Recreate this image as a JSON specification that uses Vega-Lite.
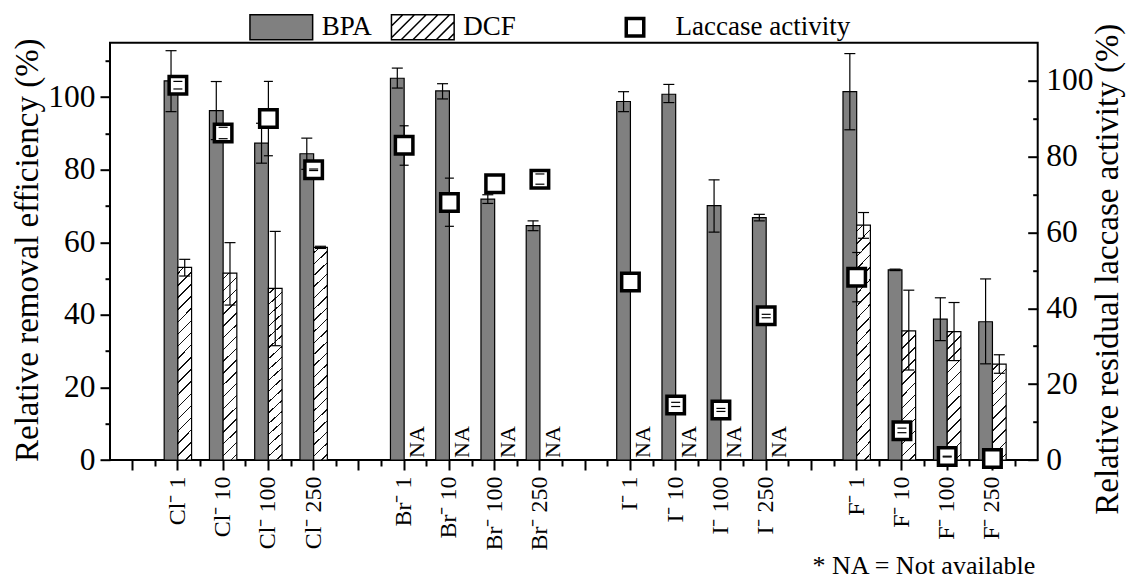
{
 "$schema": "https://vega.github.io/schema/vega-lite/v6.json",
 "width": 927.7,
 "height": 417.3,
 "autosize": {"type": "none"},
 "padding": {"left": 110, "top": 42.7, "right": 88.3, "bottom": 121},
 "background": "white",
 "config": {
  "view": {"stroke": "black", "strokeWidth": 2},
  "font": "Liberation Serif",
  "text": {"font": "Liberation Serif"},
  "axis": {"grid": false, "domain": false, "tickColor": "black", "tickWidth": 2, "labelColor": "black", "labelFont": "Liberation Serif", "titleFont": "Liberation Serif", "titleFontWeight": "normal", "titleColor": "black"},
  "legend": {"labelFont": "Liberation Serif", "labelColor": "black"}
 },
 "data": {"values": [
  {"label": "Cl⁻ 1", "BPA": 104.5, "BPA_lo": 96.0, "BPA_hi": 112.8, "DCF": 53.1, "DCF_lo": 50.7, "DCF_hi": 55.3, "Lac": 98.8, "Lac_lo": 97.8, "Lac_hi": 99.8},
  {"label": "Cl⁻ 10", "BPA": 96.3, "BPA_lo": 88.3, "BPA_hi": 104.3, "DCF": 51.5, "DCF_lo": 42.7, "DCF_hi": 59.9, "Lac": 86.2, "Lac_lo": 84.7, "Lac_hi": 87.7},
  {"label": "Cl⁻ 100", "BPA": 87.3, "BPA_lo": 81.8, "BPA_hi": 92.8, "DCF": 47.3, "DCF_lo": 31.5, "DCF_hi": 63.0, "Lac": 90.0, "Lac_lo": 80.2, "Lac_hi": 99.8},
  {"label": "Cl⁻ 250", "BPA": 84.4, "BPA_lo": 80.1, "BPA_hi": 88.7, "DCF": 58.6, "DCF_lo": 58.3, "DCF_hi": 58.9, "Lac": 76.5, "Lac_lo": 76.3, "Lac_hi": 76.7},
  {"label": "Br⁻ 1", "BPA": 105.2, "BPA_lo": 102.5, "BPA_hi": 108.0, "DCF": null, "DCF_lo": null, "DCF_hi": null, "Lac": 83.0, "Lac_lo": 77.7, "Lac_hi": 88.1},
  {"label": "Br⁻ 10", "BPA": 101.7, "BPA_lo": 99.5, "BPA_hi": 103.7, "DCF": null, "DCF_lo": null, "DCF_hi": null, "Lac": 67.9, "Lac_lo": 61.6, "Lac_hi": 74.3},
  {"label": "Br⁻ 100", "BPA": 71.9, "BPA_lo": 70.7, "BPA_hi": 73.1, "DCF": null, "DCF_lo": null, "DCF_hi": null, "Lac": 72.8, "Lac_lo": null, "Lac_hi": null},
  {"label": "Br⁻ 250", "BPA": 64.6, "BPA_lo": 63.2, "BPA_hi": 65.9, "DCF": null, "DCF_lo": null, "DCF_hi": null, "Lac": 74.0, "Lac_lo": 72.7, "Lac_hi": 75.4},
  {"label": "I⁻ 1", "BPA": 98.8, "BPA_lo": 96.0, "BPA_hi": 101.5, "DCF": null, "DCF_lo": null, "DCF_hi": null, "Lac": 46.9, "Lac_lo": null, "Lac_hi": null},
  {"label": "I⁻ 10", "BPA": 100.8, "BPA_lo": 98.5, "BPA_hi": 103.5, "DCF": null, "DCF_lo": null, "DCF_hi": null, "Lac": 14.5, "Lac_lo": 14.1, "Lac_hi": 15.2},
  {"label": "I⁻ 100", "BPA": 70.1, "BPA_lo": 62.8, "BPA_hi": 77.2, "DCF": null, "DCF_lo": null, "DCF_hi": null, "Lac": 13.2, "Lac_lo": 12.8, "Lac_hi": 13.6},
  {"label": "I⁻ 250", "BPA": 66.8, "BPA_lo": 65.9, "BPA_hi": 67.7, "DCF": null, "DCF_lo": null, "DCF_hi": null, "Lac": 38.0, "Lac_lo": 37.5, "Lac_hi": 38.4},
  {"label": "F⁻ 1", "BPA": 101.5, "BPA_lo": 91.0, "BPA_hi": 112.0, "DCF": 64.7, "DCF_lo": 61.1, "DCF_hi": 68.2, "Lac": 48.2, "Lac_lo": 41.7, "Lac_hi": 54.7},
  {"label": "F⁻ 10", "BPA": 52.4, "BPA_lo": 52.2, "BPA_hi": 52.6, "DCF": 35.6, "DCF_lo": 24.8, "DCF_hi": 46.8, "Lac": 7.7, "Lac_lo": 7.2, "Lac_hi": 8.4},
  {"label": "F⁻ 100", "BPA": 38.8, "BPA_lo": 32.9, "BPA_hi": 44.7, "DCF": 35.4, "DCF_lo": 27.4, "DCF_hi": 43.4, "Lac": 0.9, "Lac_lo": 0.8, "Lac_hi": 1.0},
  {"label": "F⁻ 250", "BPA": 38.1, "BPA_lo": 26.5, "BPA_hi": 49.9, "DCF": 26.4, "DCF_lo": 23.9, "DCF_hi": 29.0, "Lac": 0.4, "Lac_lo": null, "Lac_hi": null}
 ]},
 "layer": [
  {
   "layer": [
    {
     "mark": {"type": "bar", "width": 13.7, "xOffset": -6.85, "fill": "#808080", "stroke": "black", "strokeWidth": 1.2, "opacity": 1},
     "encoding": {
      "x": {"field": "label", "type": "nominal",
       "scale": {"type": "band", "domain": [" ", "Cl⁻ 1", "Cl⁻ 10", "Cl⁻ 100", "Cl⁻ 250", "  ", "Br⁻ 1", "Br⁻ 10", "Br⁻ 100", "Br⁻ 250", "   ", "I⁻ 1", "I⁻ 10", "I⁻ 100", "I⁻ 250", "    ", "F⁻ 1", "F⁻ 10", "F⁻ 100", "F⁻ 250"], "paddingInner": 0, "paddingOuter": 0.25, "align": 0},
       "axis": {"orient": "bottom", "tickSize": 10, "labelAngle": 270, "labelFont": "Liberation Serif", "labelFontSize": 24, "labelPadding": 6, "labelOverlap": false, "labelLimit": 300, "title": "* NA = Not available", "titleFont": "Liberation Serif", "titleFontSize": 26, "titleX": 924.7, "titleY": 105.5, "titleAlign": "right", "titleBaseline": "middle", "titleAngle": 0}},
      "y": {"field": "BPA", "type": "quantitative", "scale": {"domain": [0, 115], "nice": false, "zero": true},
       "axis": {"orient": "left", "values": [0, 20, 40, 60, 80, 100], "tickSize": 10, "labelFont": "Liberation Serif", "labelFontSize": 31.5, "labelPadding": 5, "title": "Relative removal efficiency (%)", "titleFont": "Liberation Serif", "titleFontSize": 33, "titleAngle": 270, "titleX": -83, "titleY": 207, "titleAlign": "center", "titleBaseline": "middle"}}
     }
    },
    {
     "mark": {"type": "bar", "width": 13.7, "xOffset": 6.85, "stroke": "black", "strokeWidth": 1.2, "opacity": 1},
     "encoding": {
      "x": {"field": "label", "type": "nominal", "axis": {"orient": "bottom", "bandPosition": 1, "tickSize": 6, "labels": false, "title": null}},
      "y": {"field": "DCF", "type": "quantitative", "axis": {"orient": "left", "values": [10, 30, 50, 70, 90, 110], "tickSize": 5, "labels": false, "title": null}},
      "fill": {
       "condition": [
        {"test": "datum.label === 'Cl⁻ 1' || datum.label === 'Cl⁻ 10' || datum.label === 'Cl⁻ 100'",
         "value": {"gradient": "linear", "x1": 0, "y1": 0, "x2": 0.0769, "y2": 1.0666, "stops": [
          {"offset": 0, "color": "#fff"},
          {"offset": 0.0257, "color": "#fff"}, {"offset": 0.0257, "color": "#111"}, {"offset": 0.0331, "color": "#111"}, {"offset": 0.0331, "color": "#fff"},
          {"offset": 0.0845, "color": "#fff"}, {"offset": 0.0845, "color": "#111"}, {"offset": 0.0919, "color": "#111"}, {"offset": 0.0919, "color": "#fff"},
          {"offset": 0.1434, "color": "#fff"}, {"offset": 0.1434, "color": "#111"}, {"offset": 0.1508, "color": "#111"}, {"offset": 0.1508, "color": "#fff"},
          {"offset": 0.2022, "color": "#fff"}, {"offset": 0.2022, "color": "#111"}, {"offset": 0.2096, "color": "#111"}, {"offset": 0.2096, "color": "#fff"},
          {"offset": 0.2610, "color": "#fff"}, {"offset": 0.2610, "color": "#111"}, {"offset": 0.2684, "color": "#111"}, {"offset": 0.2684, "color": "#fff"},
          {"offset": 0.3198, "color": "#fff"}, {"offset": 0.3198, "color": "#111"}, {"offset": 0.3272, "color": "#111"}, {"offset": 0.3272, "color": "#fff"},
          {"offset": 0.3787, "color": "#fff"}, {"offset": 0.3787, "color": "#111"}, {"offset": 0.3861, "color": "#111"}, {"offset": 0.3861, "color": "#fff"},
          {"offset": 0.4375, "color": "#fff"}, {"offset": 0.4375, "color": "#111"}, {"offset": 0.4449, "color": "#111"}, {"offset": 0.4449, "color": "#fff"},
          {"offset": 0.4963, "color": "#fff"}, {"offset": 0.4963, "color": "#111"}, {"offset": 0.5037, "color": "#111"}, {"offset": 0.5037, "color": "#fff"},
          {"offset": 0.5551, "color": "#fff"}, {"offset": 0.5551, "color": "#111"}, {"offset": 0.5625, "color": "#111"}, {"offset": 0.5625, "color": "#fff"},
          {"offset": 0.6139, "color": "#fff"}, {"offset": 0.6139, "color": "#111"}, {"offset": 0.6213, "color": "#111"}, {"offset": 0.6213, "color": "#fff"},
          {"offset": 0.6728, "color": "#fff"}, {"offset": 0.6728, "color": "#111"}, {"offset": 0.6802, "color": "#111"}, {"offset": 0.6802, "color": "#fff"},
          {"offset": 0.7316, "color": "#fff"}, {"offset": 0.7316, "color": "#111"}, {"offset": 0.7390, "color": "#111"}, {"offset": 0.7390, "color": "#fff"},
          {"offset": 0.7904, "color": "#fff"}, {"offset": 0.7904, "color": "#111"}, {"offset": 0.7978, "color": "#111"}, {"offset": 0.7978, "color": "#fff"},
          {"offset": 0.8492, "color": "#fff"}, {"offset": 0.8492, "color": "#111"}, {"offset": 0.8566, "color": "#111"}, {"offset": 0.8566, "color": "#fff"},
          {"offset": 0.9081, "color": "#fff"}, {"offset": 0.9081, "color": "#111"}, {"offset": 0.9155, "color": "#111"}, {"offset": 0.9155, "color": "#fff"},
          {"offset": 0.9669, "color": "#fff"}, {"offset": 0.9669, "color": "#111"}, {"offset": 0.9743, "color": "#111"}, {"offset": 0.9743, "color": "#fff"},
          {"offset": 1, "color": "#fff"}
         ]}},
        {"test": "datum.label === 'Cl⁻ 250' || datum.label === 'F⁻ 1'",
         "value": {"gradient": "linear", "x1": 0, "y1": 0, "x2": 0.0648, "y2": 1.0573, "stops": [
          {"offset": 0, "color": "#fff"},
          {"offset": 0.0218, "color": "#fff"}, {"offset": 0.0218, "color": "#111"}, {"offset": 0.0282, "color": "#111"}, {"offset": 0.0282, "color": "#fff"},
          {"offset": 0.0718, "color": "#fff"}, {"offset": 0.0718, "color": "#111"}, {"offset": 0.0782, "color": "#111"}, {"offset": 0.0782, "color": "#fff"},
          {"offset": 0.1218, "color": "#fff"}, {"offset": 0.1218, "color": "#111"}, {"offset": 0.1282, "color": "#111"}, {"offset": 0.1282, "color": "#fff"},
          {"offset": 0.1718, "color": "#fff"}, {"offset": 0.1718, "color": "#111"}, {"offset": 0.1782, "color": "#111"}, {"offset": 0.1782, "color": "#fff"},
          {"offset": 0.2218, "color": "#fff"}, {"offset": 0.2218, "color": "#111"}, {"offset": 0.2282, "color": "#111"}, {"offset": 0.2282, "color": "#fff"},
          {"offset": 0.2718, "color": "#fff"}, {"offset": 0.2718, "color": "#111"}, {"offset": 0.2782, "color": "#111"}, {"offset": 0.2782, "color": "#fff"},
          {"offset": 0.3218, "color": "#fff"}, {"offset": 0.3218, "color": "#111"}, {"offset": 0.3282, "color": "#111"}, {"offset": 0.3282, "color": "#fff"},
          {"offset": 0.3718, "color": "#fff"}, {"offset": 0.3718, "color": "#111"}, {"offset": 0.3782, "color": "#111"}, {"offset": 0.3782, "color": "#fff"},
          {"offset": 0.4218, "color": "#fff"}, {"offset": 0.4218, "color": "#111"}, {"offset": 0.4282, "color": "#111"}, {"offset": 0.4282, "color": "#fff"},
          {"offset": 0.4718, "color": "#fff"}, {"offset": 0.4718, "color": "#111"}, {"offset": 0.4782, "color": "#111"}, {"offset": 0.4782, "color": "#fff"},
          {"offset": 0.5218, "color": "#fff"}, {"offset": 0.5218, "color": "#111"}, {"offset": 0.5282, "color": "#111"}, {"offset": 0.5282, "color": "#fff"},
          {"offset": 0.5718, "color": "#fff"}, {"offset": 0.5718, "color": "#111"}, {"offset": 0.5782, "color": "#111"}, {"offset": 0.5782, "color": "#fff"},
          {"offset": 0.6218, "color": "#fff"}, {"offset": 0.6218, "color": "#111"}, {"offset": 0.6282, "color": "#111"}, {"offset": 0.6282, "color": "#fff"},
          {"offset": 0.6718, "color": "#fff"}, {"offset": 0.6718, "color": "#111"}, {"offset": 0.6782, "color": "#111"}, {"offset": 0.6782, "color": "#fff"},
          {"offset": 0.7218, "color": "#fff"}, {"offset": 0.7218, "color": "#111"}, {"offset": 0.7282, "color": "#111"}, {"offset": 0.7282, "color": "#fff"},
          {"offset": 0.7718, "color": "#fff"}, {"offset": 0.7718, "color": "#111"}, {"offset": 0.7782, "color": "#111"}, {"offset": 0.7782, "color": "#fff"},
          {"offset": 0.8218, "color": "#fff"}, {"offset": 0.8218, "color": "#111"}, {"offset": 0.8282, "color": "#111"}, {"offset": 0.8282, "color": "#fff"},
          {"offset": 0.8718, "color": "#fff"}, {"offset": 0.8718, "color": "#111"}, {"offset": 0.8782, "color": "#111"}, {"offset": 0.8782, "color": "#fff"},
          {"offset": 0.9218, "color": "#fff"}, {"offset": 0.9218, "color": "#111"}, {"offset": 0.9282, "color": "#111"}, {"offset": 0.9282, "color": "#fff"},
          {"offset": 0.9718, "color": "#fff"}, {"offset": 0.9718, "color": "#111"}, {"offset": 0.9782, "color": "#111"}, {"offset": 0.9782, "color": "#fff"},
          {"offset": 1, "color": "#fff"}
         ]}},
        {"test": "datum.label === 'F⁻ 10' || datum.label === 'F⁻ 100'",
         "value": {"gradient": "linear", "x1": 0, "y1": 0, "x2": 0.1164, "y2": 1.094, "stops": [
          {"offset": 0, "color": "#fff"},
          {"offset": 0.0364, "color": "#fff"}, {"offset": 0.0364, "color": "#111"}, {"offset": 0.0470, "color": "#111"}, {"offset": 0.0470, "color": "#fff"},
          {"offset": 0.1197, "color": "#fff"}, {"offset": 0.1197, "color": "#111"}, {"offset": 0.1303, "color": "#111"}, {"offset": 0.1303, "color": "#fff"},
          {"offset": 0.2030, "color": "#fff"}, {"offset": 0.2030, "color": "#111"}, {"offset": 0.2136, "color": "#111"}, {"offset": 0.2136, "color": "#fff"},
          {"offset": 0.2864, "color": "#fff"}, {"offset": 0.2864, "color": "#111"}, {"offset": 0.2970, "color": "#111"}, {"offset": 0.2970, "color": "#fff"},
          {"offset": 0.3697, "color": "#fff"}, {"offset": 0.3697, "color": "#111"}, {"offset": 0.3803, "color": "#111"}, {"offset": 0.3803, "color": "#fff"},
          {"offset": 0.4530, "color": "#fff"}, {"offset": 0.4530, "color": "#111"}, {"offset": 0.4636, "color": "#111"}, {"offset": 0.4636, "color": "#fff"},
          {"offset": 0.5364, "color": "#fff"}, {"offset": 0.5364, "color": "#111"}, {"offset": 0.5470, "color": "#111"}, {"offset": 0.5470, "color": "#fff"},
          {"offset": 0.6197, "color": "#fff"}, {"offset": 0.6197, "color": "#111"}, {"offset": 0.6303, "color": "#111"}, {"offset": 0.6303, "color": "#fff"},
          {"offset": 0.7030, "color": "#fff"}, {"offset": 0.7030, "color": "#111"}, {"offset": 0.7136, "color": "#111"}, {"offset": 0.7136, "color": "#fff"},
          {"offset": 0.7864, "color": "#fff"}, {"offset": 0.7864, "color": "#111"}, {"offset": 0.7970, "color": "#111"}, {"offset": 0.7970, "color": "#fff"},
          {"offset": 0.8697, "color": "#fff"}, {"offset": 0.8697, "color": "#111"}, {"offset": 0.8803, "color": "#111"}, {"offset": 0.8803, "color": "#fff"},
          {"offset": 0.9530, "color": "#fff"}, {"offset": 0.9530, "color": "#111"}, {"offset": 0.9636, "color": "#111"}, {"offset": 0.9636, "color": "#fff"},
          {"offset": 1, "color": "#fff"}
         ]}}
       ],
       "value": {"gradient": "linear", "x1": 0, "y1": 0, "x2": 0.1602, "y2": 1.1201, "stops": [
        {"offset": 0, "color": "#fff"},
        {"offset": 0.0488, "color": "#fff"}, {"offset": 0.0488, "color": "#111"}, {"offset": 0.0624, "color": "#111"}, {"offset": 0.0624, "color": "#fff"},
        {"offset": 0.1599, "color": "#fff"}, {"offset": 0.1599, "color": "#111"}, {"offset": 0.1735, "color": "#111"}, {"offset": 0.1735, "color": "#fff"},
        {"offset": 0.2710, "color": "#fff"}, {"offset": 0.2710, "color": "#111"}, {"offset": 0.2846, "color": "#111"}, {"offset": 0.2846, "color": "#fff"},
        {"offset": 0.3821, "color": "#fff"}, {"offset": 0.3821, "color": "#111"}, {"offset": 0.3957, "color": "#111"}, {"offset": 0.3957, "color": "#fff"},
        {"offset": 0.4932, "color": "#fff"}, {"offset": 0.4932, "color": "#111"}, {"offset": 0.5068, "color": "#111"}, {"offset": 0.5068, "color": "#fff"},
        {"offset": 0.6043, "color": "#fff"}, {"offset": 0.6043, "color": "#111"}, {"offset": 0.6179, "color": "#111"}, {"offset": 0.6179, "color": "#fff"},
        {"offset": 0.7154, "color": "#fff"}, {"offset": 0.7154, "color": "#111"}, {"offset": 0.7290, "color": "#111"}, {"offset": 0.7290, "color": "#fff"},
        {"offset": 0.8265, "color": "#fff"}, {"offset": 0.8265, "color": "#111"}, {"offset": 0.8401, "color": "#111"}, {"offset": 0.8401, "color": "#fff"},
        {"offset": 0.9376, "color": "#fff"}, {"offset": 0.9376, "color": "#111"}, {"offset": 0.9512, "color": "#111"}, {"offset": 0.9512, "color": "#fff"},
        {"offset": 1, "color": "#fff"}
       ]}
      }
     }
    },
    {
     "mark": {"type": "rule", "xOffset": -6.85, "color": "black", "strokeWidth": 1.2},
     "encoding": {
      "x": {"field": "label", "type": "nominal", "axis": null},
      "y": {"field": "BPA_lo", "type": "quantitative", "axis": null},
      "y2": {"field": "BPA_hi"}
     }
    },
    {
     "mark": {"type": "tick", "xOffset": -6.85, "color": "black", "thickness": 1.2, "size": 11, "opacity": 1},
     "encoding": {
      "x": {"field": "label", "type": "nominal", "axis": null},
      "y": {"field": "BPA_lo", "type": "quantitative", "axis": null}
     }
    },
    {
     "mark": {"type": "tick", "xOffset": -6.85, "color": "black", "thickness": 1.2, "size": 11, "opacity": 1},
     "encoding": {
      "x": {"field": "label", "type": "nominal", "axis": null},
      "y": {"field": "BPA_hi", "type": "quantitative", "axis": null}
     }
    },
    {
     "mark": {"type": "rule", "xOffset": 6.85, "color": "black", "strokeWidth": 1.2},
     "encoding": {
      "x": {"field": "label", "type": "nominal", "axis": null},
      "y": {"field": "DCF_lo", "type": "quantitative", "axis": null},
      "y2": {"field": "DCF_hi"}
     }
    },
    {
     "mark": {"type": "tick", "xOffset": 6.85, "color": "black", "thickness": 1.2, "size": 11, "opacity": 1},
     "encoding": {
      "x": {"field": "label", "type": "nominal", "axis": null},
      "y": {"field": "DCF_lo", "type": "quantitative", "axis": null}
     }
    },
    {
     "mark": {"type": "tick", "xOffset": 6.85, "color": "black", "thickness": 1.2, "size": 11, "opacity": 1},
     "encoding": {
      "x": {"field": "label", "type": "nominal", "axis": null},
      "y": {"field": "DCF_hi", "type": "quantitative", "axis": null}
     }
    },
    {
     "transform": [{"filter": "datum.DCF === null"}],
     "mark": {"type": "text", "text": "NA", "angle": 270, "align": "left", "baseline": "middle", "fontSize": 22, "font": "Liberation Serif", "color": "black", "xOffset": 13, "yOffset": -2},
     "encoding": {
      "x": {"field": "label", "type": "nominal", "axis": null},
      "y": {"datum": 0, "axis": null}
     }
    },
    {
     "mark": {"type": "point", "filled": true, "clip": true, "shape": "M-3.483,-1.389H3.483V1.389H-3.483Z", "stroke": "black", "strokeWidth": 1.5, "size": 324, "opacity": 1},
     "encoding": {
      "y": {"datum": -50, "axis": null},
      "fill": {"datum": "BPA", "scale": {"range": ["#808080"]},
       "legend": {"orient": "none", "legendX": 157.8, "legendY": -29, "direction": "horizontal", "title": null, "labelFont": "Liberation Serif", "labelFontSize": 27, "labelOffset": 27, "symbolType": "M-3.483,-1.389H3.483V1.389H-3.483Z", "symbolSize": 324, "symbolStrokeColor": "black", "symbolStrokeWidth": 1.5, "labelLimit": 300, "padding": 0}}
     }
    },
    {
     "mark": {"type": "point", "filled": true, "clip": true, "shape": "M-3.483,-1.389H3.483V1.389H-3.483Z M-3.483,-0.128L-2.222,-1.389 M-3.483,1.172L-0.922,-1.389 M-2.4,1.389L0.378,-1.389 M-1.1,1.389L1.678,-1.389 M0.2,1.389L2.978,-1.389 M1.5,1.389L3.483,-0.594 M2.8,1.389L3.483,0.706", "fill": "white", "strokeWidth": 1.5, "size": 324, "opacity": 1},
     "encoding": {
      "y": {"datum": -50, "axis": null},
      "stroke": {"datum": "DCF", "scale": {"range": ["black"]},
       "legend": {"orient": "none", "legendX": 299.3, "legendY": -29, "direction": "horizontal", "title": null, "labelFont": "Liberation Serif", "labelFontSize": 27, "labelOffset": 27, "symbolType": "M-3.483,-1.389H3.483V1.389H-3.483Z M-3.483,-0.128L-2.222,-1.389 M-3.483,1.172L-0.922,-1.389 M-2.4,1.389L0.378,-1.389 M-1.1,1.389L1.678,-1.389 M0.2,1.389L2.978,-1.389 M1.5,1.389L3.483,-0.594 M2.8,1.389L3.483,0.706", "symbolSize": 324, "symbolFillColor": "white", "symbolStrokeWidth": 1.5, "labelLimit": 300, "padding": 0}}
     }
    }
   ],
   "resolve": {"axis": {"x": "independent", "y": "independent"}}
  },
  {
   "layer": [
    {
     "mark": {"type": "rule", "color": "black", "strokeWidth": 1.2},
     "encoding": {
      "x": {"field": "label", "type": "nominal", "axis": null},
      "y": {"field": "Lac_lo", "type": "quantitative", "scale": {"domain": [0, 110], "nice": false, "zero": true},
       "axis": {"orient": "right", "values": [0, 20, 40, 60, 80, 100], "tickSize": -10, "labelPadding": 18, "labelFont": "Liberation Serif", "labelFontSize": 31.5, "title": "Relative residual laccase activity (%)", "titleFont": "Liberation Serif", "titleFontSize": 33, "titleAngle": 270, "titleX": 70, "titleY": 226, "titleAlign": "center", "titleBaseline": "middle"}},
      "y2": {"field": "Lac_hi"}
     }
    },
    {
     "mark": {"type": "point", "filled": true, "shape": "square", "fill": "white", "strokeWidth": 3.5, "size": 306, "opacity": 1},
     "encoding": {
      "x": {"field": "label", "type": "nominal", "axis": null},
      "y": {"field": "Lac", "type": "quantitative", "axis": {"orient": "right", "values": [10, 30, 50, 70, 90], "tickSize": -5, "labels": false, "title": null}},
      "stroke": {"datum": "Laccase activity", "scale": {"range": ["black"]},
       "legend": {"orient": "none", "legendX": 511.5, "legendY": -29, "direction": "horizontal", "title": null, "labelFont": "Liberation Serif", "labelFontSize": 27, "labelOffset": 27, "symbolType": "square", "symbolSize": 306, "symbolStrokeWidth": 3.5, "symbolFillColor": "white", "labelLimit": 300, "padding": 0}}
     }
    },
    {
     "mark": {"type": "tick", "color": "black", "thickness": 1.2, "size": 9, "opacity": 1},
     "encoding": {
      "x": {"field": "label", "type": "nominal", "axis": null},
      "y": {"field": "Lac_lo", "type": "quantitative", "axis": null}
     }
    },
    {
     "mark": {"type": "tick", "color": "black", "thickness": 1.2, "size": 9, "opacity": 1},
     "encoding": {
      "x": {"field": "label", "type": "nominal", "axis": null},
      "y": {"field": "Lac_hi", "type": "quantitative", "axis": null}
     }
    }
   ],
   "resolve": {"axis": {"y": "independent"}}
  }
 ],
 "resolve": {"scale": {"y": "independent", "stroke": "independent"}, "axis": {"x": "independent", "y": "independent"}, "legend": {"stroke": "independent"}}
}
